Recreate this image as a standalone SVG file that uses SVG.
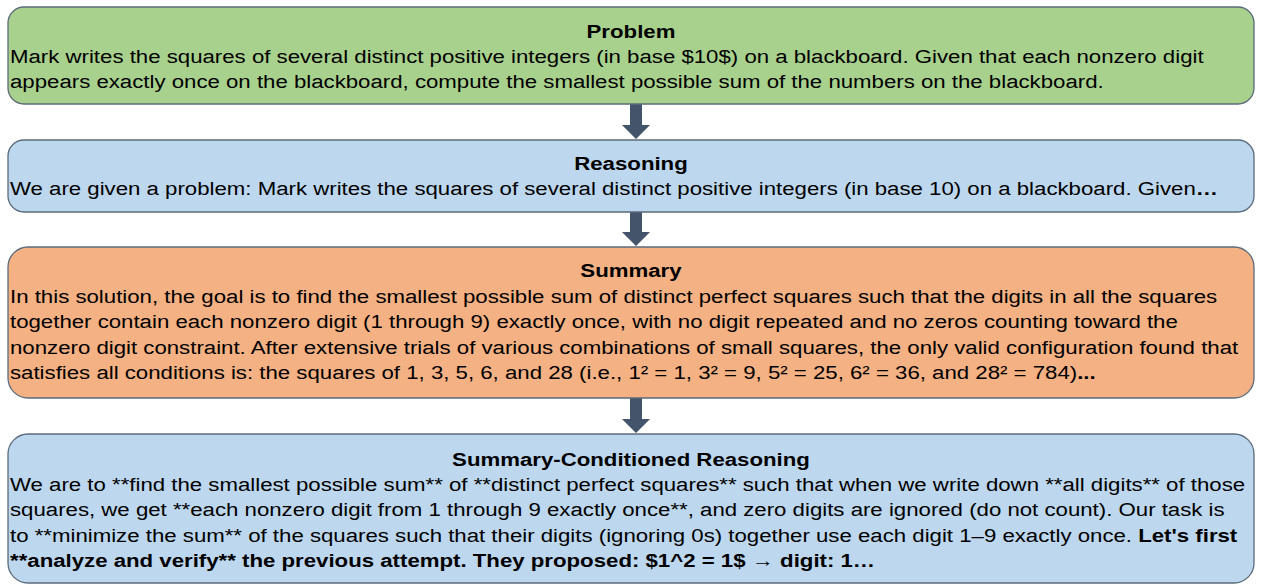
<svg xmlns="http://www.w3.org/2000/svg" width="1262" height="586" viewBox="0 0 1262 586">
<style>
.box{stroke:#5b6b7b;stroke-width:1.3}
.t{font-family:"Liberation Sans",Arial,sans-serif;font-size:19px;fill:#000}
.h{font-weight:bold;text-anchor:middle}
.b{font-weight:bold}
.arr{fill:#44546a}
</style>
<rect width="1262" height="586" fill="#fff"/>
<g id="connectors">
<polygon class="arr" points="630,104 642,104 642,125 650,125 636,139 622,125 630,125"/>
<polygon class="arr" points="630,212 642,212 642,232 650,232 636,246 622,232 630,232"/>
<polygon class="arr" points="630,398 642,398 642,419 650,419 636,433 622,419 630,419"/>
</g>
<g id="problem">
<rect class="box" x="8" y="7" width="1246" height="97" rx="16" fill="#a9d18e"/>
<g transform="matrix(1.17 0 0 1 -107.27 0)"><text class="t h" x="631" y="38">Problem</text></g>
<g transform="matrix(1.17 0 0 1 -1.7 0)">
<text class="t" x="10" y="63">Mark writes the squares of several distinct positive integers (in base $10$) on a blackboard. Given that each nonzero digit</text>
<text class="t" x="10" y="88">appears exactly once on the blackboard, compute the smallest possible sum of the numbers on the blackboard.</text>
</g>
</g>
<g id="reasoning">
<rect class="box" x="8" y="140" width="1246" height="72" rx="16" fill="#bdd7ee"/>
<g transform="matrix(1.17 0 0 1 -107.27 0)"><text class="t h" x="631" y="170">Reasoning</text></g>
<g transform="matrix(1.17 0 0 1 -1.7 0)">
<text class="t" x="10" y="195">We are given a problem: Mark writes the squares of several distinct positive integers (in base 10) on a blackboard. Given<tspan class="b">…</tspan></text>
</g>
</g>
<g id="summary">
<rect class="box" x="8" y="247" width="1246" height="151" rx="20" fill="#f4b183"/>
<g transform="matrix(1.17 0 0 1 -107.27 0)"><text class="t h" x="631" y="277">Summary</text></g>
<g transform="matrix(1.17 0 0 1 -1.7 0)">
<text class="t" x="10" y="303">In this solution, the goal is to find the smallest possible sum of distinct perfect squares such that the digits in all the squares</text>
<text class="t" x="10" y="328">together contain each nonzero digit (1 through 9) exactly once, with no digit repeated and no zeros counting toward the</text>
<text class="t" x="10" y="354">nonzero digit constraint. After extensive trials of various combinations of small squares, the only valid configuration found that</text>
<text class="t" x="10" y="379">satisfies all conditions is: the squares of 1, 3, 5, 6, and 28 (i.e., 1² = 1, 3² = 9, 5² = 25, 6² = 36, and 28² = 784)<tspan class="b">...</tspan></text>
</g>
</g>
<g id="summary-conditioned">
<rect class="box" x="8" y="434" width="1246" height="149" rx="20" fill="#bdd7ee"/>
<g transform="matrix(1.17 0 0 1 -107.27 0)"><text class="t h" x="631" y="466">Summary-Conditioned Reasoning</text></g>
<g transform="matrix(1.17 0 0 1 -1.7 0)">
<text class="t" x="10" y="491">We are to **find the smallest possible sum** of **distinct perfect squares** such that when we write down **all digits** of those</text>
<text class="t" x="10" y="516">squares, we get **each nonzero digit from 1 through 9 exactly once**, and zero digits are ignored (do not count). Our task is</text>
<text class="t" x="10" y="542">to **minimize the sum** of the squares such that their digits (ignoring 0s) together use each digit 1–9 exactly once. <tspan class="b">Let's first</tspan></text>
<text class="t b" x="10" y="567">**analyze and verify** the previous attempt. They proposed: $1^2 = 1$ → digit: 1…</text>
</g>
</g>
</svg>
